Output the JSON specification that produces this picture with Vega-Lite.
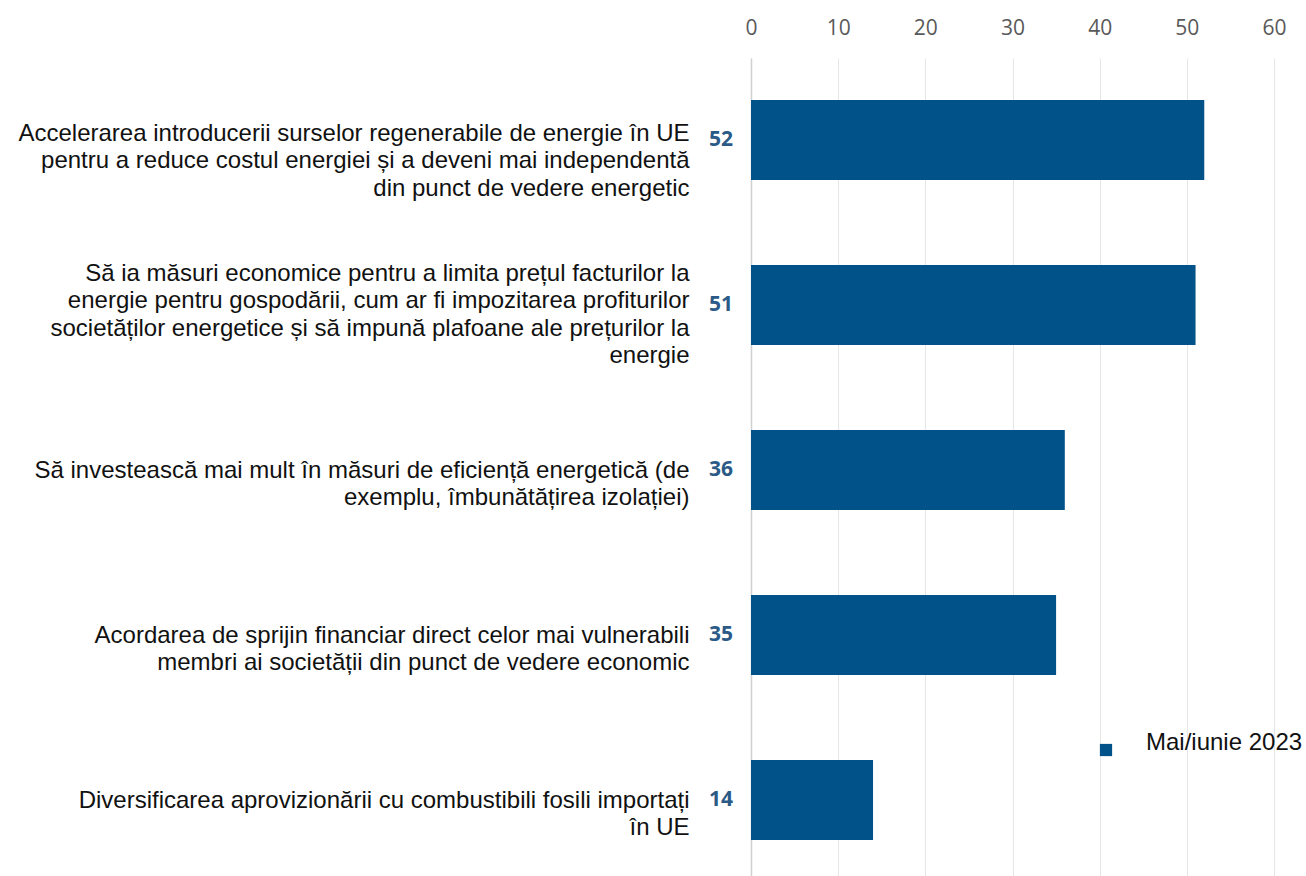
{
  "$schema": "https://vega.github.io/schema/vega-lite/v6.json",
  "autosize": {"type": "none"},
  "width": 523,
  "height": 818,
  "padding": {"left": 751, "top": 58, "right": 32, "bottom": 0},
  "background": "white",
  "config": {"view": {"stroke": null}},
  "data": {
    "values": [
      {"label": "Accelerarea introducerii surselor regenerabile de energie în UE|pentru a reduce costul energiei și a deveni mai independentă|din punct de vedere energetic", "value": 52, "series": "Mai/iunie 2023"},
      {"label": "Să ia măsuri economice pentru a limita prețul facturilor la|energie pentru gospodării, cum ar fi impozitarea profiturilor|societăților energetice și să impună plafoane ale prețurilor la|energie", "value": 51, "series": "Mai/iunie 2023"},
      {"label": "Să investească mai mult în măsuri de eficiență energetică (de|exemplu, îmbunătățirea izolației)", "value": 36, "series": "Mai/iunie 2023"},
      {"label": "Acordarea de sprijin financiar direct celor mai vulnerabili|membri ai societății din punct de vedere economic", "value": 35, "series": "Mai/iunie 2023"},
      {"label": "Diversificarea aprovizionării cu combustibili fosili importați|în UE", "value": 14, "series": "Mai/iunie 2023"}
    ]
  },
  "encoding": {
    "y": {
      "field": "label",
      "type": "nominal",
      "sort": null,
      "scale": {"paddingInner": 0.515, "paddingOuter": 0.2364, "align": 0.538},
      "axis": {
        "title": null,
        "labelExpr": "split(datum.label, '|')",
        "labelFont": "Liberation Sans",
        "labelFontSize": 24,
        "labelColor": "#111111",
        "labelLineHeight": 27.5,
        "labelPadding": 62,
        "labelOffset": {
          "condition": [
            {"test": "length(split(datum.value, '|')) == 3", "value": -6},
            {"test": "length(split(datum.value, '|')) == 4", "value": -31}
          ],
          "value": 1
        },
        "labelLimit": 0,
        "ticks": false,
        "domain": true,
        "domainColor": "#d0d0d0",
        "domainWidth": 1.5,
        "grid": false
      }
    }
  },
  "layer": [
    {
      "mark": {"type": "bar", "color": "#02528a"},
      "encoding": {
        "x": {
          "field": "value",
          "type": "quantitative",
          "scale": {"domain": [0, 60], "nice": false},
          "axis": {
            "orient": "top",
            "title": null,
            "values": [0, 10, 20, 30, 40, 50, 60],
            "labelFont": "Open Sans",
            "labelFontSize": 21,
            "labelColor": "#595959",
            "labelPadding": 20,
            "labelFlush": false,
            "ticks": false,
            "domain": false,
            "grid": true,
            "gridColor": "#e6e6e6",
            "gridWidth": 1
          }
        },
        "color": {
          "field": "series",
          "type": "nominal",
          "scale": {"range": ["#02528a"]},
          "legend": {
            "title": null,
            "orient": "none",
            "legendX": 343,
            "legendY": 680,
            "padding": 0,
            "symbolType": "square",
            "symbolSize": 150,
            "symbolStrokeWidth": 0,
            "labelFont": "Liberation Sans",
            "labelFontSize": 24,
            "labelColor": "#111111",
            "labelBaseline": "alphabetic",
            "labelOffset": 28,
            "labelLimit": 0
          }
        }
      }
    },
    {
      "mark": {"type": "text", "align": "right", "baseline": "middle", "dx": -18, "font": "Open Sans", "fontWeight": "bold", "fontSize": 21, "color": "#2b5a87"},
      "encoding": {
        "x": {"datum": 0},
        "text": {"field": "value", "type": "quantitative"}
      }
    }
  ]
}
